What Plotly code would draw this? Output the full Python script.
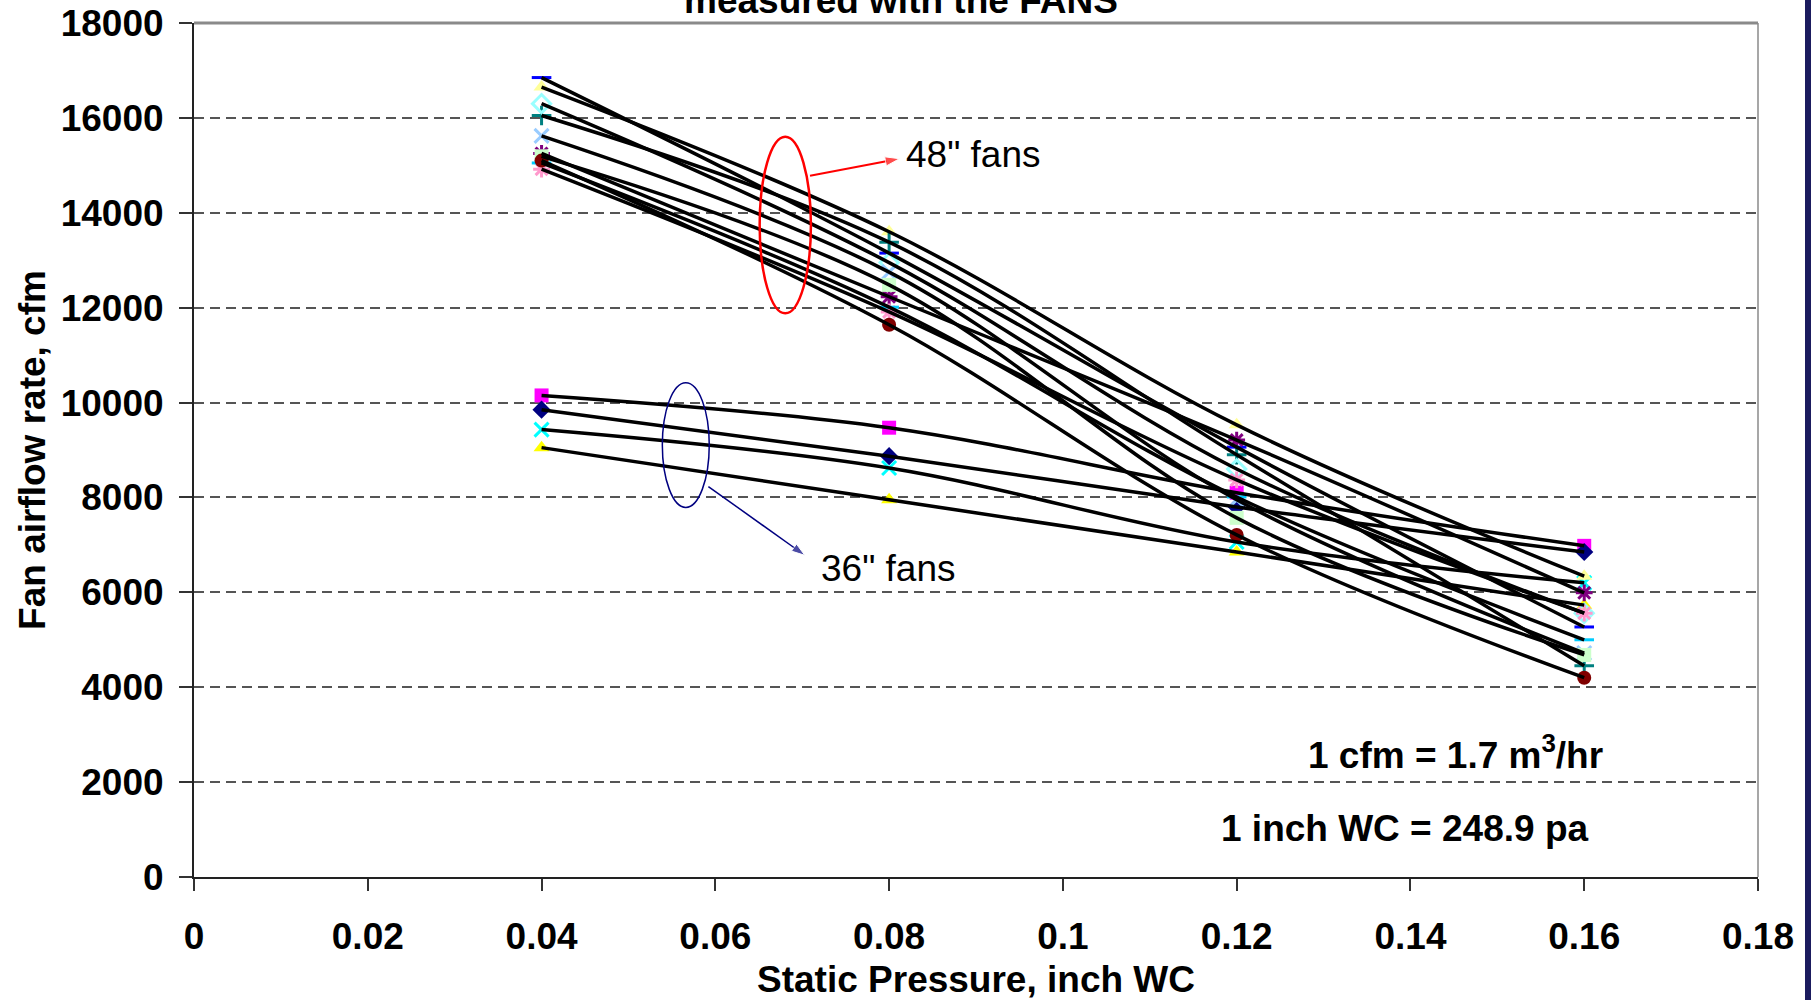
import plotly.graph_objects as go

# ---------------- data ----------------
pressure = [0.04, 0.08, 0.12, 0.16]

# 36" fans
fan36_a = [10150, 9470, 8100, 6980]
fan36_b = [9850, 8870, 7800, 6850]
fan36_c = [9430, 8620, 7060, 6200]
fan36_d = [9050, 7950, 6850, 5730]

# 48" fans
fan48_a = [16650, 13600, 9530, 6340]
fan48_b = [16850, 13150, 9060, 5270]
fan48_c = [15250, 12230, 9210, 5990]
fan48_d = [16050, 13380, 8900, 4450]
fan48_e = [16300, 12950, 8600, 5560]
fan48_f = [15620, 12750, 7950, 4720]
fan48_g = [15190, 12480, 7570, 4680]
fan48_h = [14920, 11910, 8370, 5560]
fan48_i = [15050, 12010, 8010, 5000]
fan48_j = [15100, 11640, 7210, 4200]

x_ticks = [0, 0.02, 0.04, 0.06, 0.08, 0.1, 0.12, 0.14, 0.16, 0.18]
x_tick_labels = ["0", "0.02", "0.04", "0.06", "0.08", "0.1", "0.12", "0.14", "0.16", "0.18"]
y_ticks = [0, 2000, 4000, 6000, 8000, 10000, 12000, 14000, 16000, 18000]
y_tick_labels = ["0", "2000", "4000", "6000", "8000", "10000", "12000", "14000", "16000", "18000"]

series = [
    ("36in A", fan36_a, "square", "#FF00FF"),
    ("36in B", fan36_b, "diamond", "#000080"),
    ("36in C", fan36_c, "x-thin", "#00FFFF"),
    ("36in D", fan36_d, "triangle-up", "#FFFF00"),
    ("48in A", fan48_a, "triangle-up", "#FFFF99"),
    ("48in B", fan48_b, "line-ew", "#0000FF"),
    ("48in C", fan48_c, "asterisk", "#800080"),
    ("48in D", fan48_d, "cross-thin", "#008080"),
    ("48in E", fan48_e, "diamond-open", "#99FFFF"),
    ("48in F", fan48_f, "x-thin", "#99CCFF"),
    ("48in G", fan48_g, "square", "#CCFFCC"),
    ("48in H", fan48_h, "asterisk", "#FF99CC"),
    ("48in I", fan48_i, "line-ew", "#00CCFF"),
    ("48in J", fan48_j, "circle", "#800000"),
]

FONT = "Liberation Sans, Arial, sans-serif"
XDOM = 1564 / 1617  # plot-area width share of the paper (paper runs to the right edge)

fig = go.Figure()

# markers first (trend lines drawn over them)
for name, vals, sym, col in series:
    line_syms = ("x-thin", "line-ew", "asterisk", "cross-thin", "diamond-open")
    if sym in line_syms:
        mk = dict(symbol=sym, size=14, color=col, line=dict(color=col, width=3))
    else:
        mk = dict(symbol=sym, size=14, color=col, line=dict(width=0))
    fig.add_trace(go.Scatter(x=pressure, y=vals, mode="markers", marker=mk,
                             name=name, showlegend=False, hoverinfo="x+y"))

for name, vals, sym, col in series:
    fig.add_trace(go.Scatter(x=pressure, y=vals, mode="lines",
                             line=dict(color="black", width=3.5, shape="spline", smoothing=1.0),
                             name=name + " trend", showlegend=False, hoverinfo="skip"))

# callout arrows
fig.add_trace(go.Scatter(x=[0.0709, 0.0812], y=[14780, 15140], mode="lines+markers",
                         line=dict(color="#FF0000", width=2),
                         marker=dict(symbol=["circle", "arrow"], size=[0, 15], color="#FF0000",
                                     angleref="previous"),
                         showlegend=False, hoverinfo="skip"))
fig.add_trace(go.Scatter(x=[0.0592, 0.0703], y=[8230, 6780], mode="lines+markers",
                         line=dict(color="#000080", width=1.5),
                         marker=dict(symbol=["circle", "arrow"], size=[0, 14], color="#000080",
                                     angleref="previous"),
                         showlegend=False, hoverinfo="skip"))

fig.update_layout(
    width=1811, height=1000, autosize=False,
    margin=dict(l=194, r=0, t=23, b=123, autoexpand=False),
    paper_bgcolor="white", plot_bgcolor="white",
    font=dict(family=FONT, size=37, color="black"),
    showlegend=False,
)

fig.update_xaxes(
    domain=[0, XDOM], automargin=False,
    range=[0, 0.18], tickvals=x_ticks, ticktext=x_tick_labels,
    showgrid=False, zeroline=False,
    showline=True, linecolor="#222222", linewidth=2,
    ticks="outside", ticklen=12, tickwidth=1.5, tickcolor="#333333",
    tickfont=dict(family=FONT, size=37, color="black", weight="bold"),
    ticklabelstandoff=14,
    title=dict(text="<b>Static Pressure, inch WC</b>", font=dict(family=FONT, size=37), standoff=25),
)
fig.update_yaxes(
    automargin=False,
    range=[0, 18000], tickvals=y_ticks, ticktext=y_tick_labels,
    showgrid=True, gridcolor="#555555", gridwidth=1.5, griddash="10px,6px",
    zeroline=False,
    showline=True, linecolor="#222222", linewidth=2,
    ticks="outside", ticklen=13, tickwidth=1.5, tickcolor="#333333",
    tickfont=dict(family=FONT, size=37, color="black", weight="bold"),
    ticklabelstandoff=8,
    title=dict(text="<b>Fan airflow rate, cfm</b>", font=dict(family=FONT, size=37), standoff=4),
)

# plot area top / right borders
fig.add_shape(type="line", xref="paper", yref="paper", x0=0, x1=XDOM, y0=1, y1=1,
              line=dict(color="#8a8a8a", width=3))
fig.add_shape(type="line", xref="paper", yref="paper", x0=XDOM, x1=XDOM, y0=0, y1=1,
              line=dict(color="#8a8a8a", width=1.5))

# navy strip at right edge of the picture
fig.add_shape(type="rect", xref="paper", yref="paper", x0=(1805 - 194) / 1617, x1=1.0,
              y0=-0.2, y1=1.1, line=dict(width=0), fillcolor="#1b1b5e", layer="above")

# ellipses
fig.add_shape(type="circle", xref="x", yref="y", x0=0.0651, x1=0.0710, y0=11880, y1=15600,
              line=dict(color="#FF0000", width=2.5))
fig.add_shape(type="circle", xref="x", yref="y", x0=0.0539, x1=0.0593, y0=7790, y1=10420,
              line=dict(color="#000080", width=1.5))

# text labels
fig.add_annotation(x=0.0817, y=15220, xref="x", yref="y", text='48" fans', showarrow=False,
                   xanchor="left", yanchor="middle", font=dict(family=FONT, size=37, color="black"))
fig.add_annotation(x=0.0719, y=6512, xref="x", yref="y", text='36" fans', showarrow=False,
                   xanchor="left", yanchor="middle", font=dict(family=FONT, size=37, color="black"))
fig.add_annotation(x=0.1452, y=2620, xref="x", yref="y", text="<b>1 cfm = 1.7 m<sup>3</sup>/hr</b>",
                   showarrow=False, xanchor="center", yanchor="middle",
                   font=dict(family=FONT, size=37, color="black"))
fig.add_annotation(x=0.1393, y=1030, xref="x", yref="y", text="<b>1 inch WC = 248.9 pa</b>",
                   showarrow=False, xanchor="center", yanchor="middle",
                   font=dict(family=FONT, size=37, color="black"))

# title (cut off at top of the picture, as in the reference)
fig.add_annotation(x=(901 - 194) / 1617, y=0.9995, xref="paper", yref="paper",
                   text="<b>measured with the FANS</b>",
                   showarrow=False, xanchor="center", yanchor="bottom",
                   font=dict(family=FONT, size=37, color="black"))

fig.write_html(
    "out.html",
    config={"displayModeBar": False},
    post_script="document.body.style.margin='0';document.body.style.overflow='hidden';"
                "document.documentElement.style.overflow='hidden';",
)
